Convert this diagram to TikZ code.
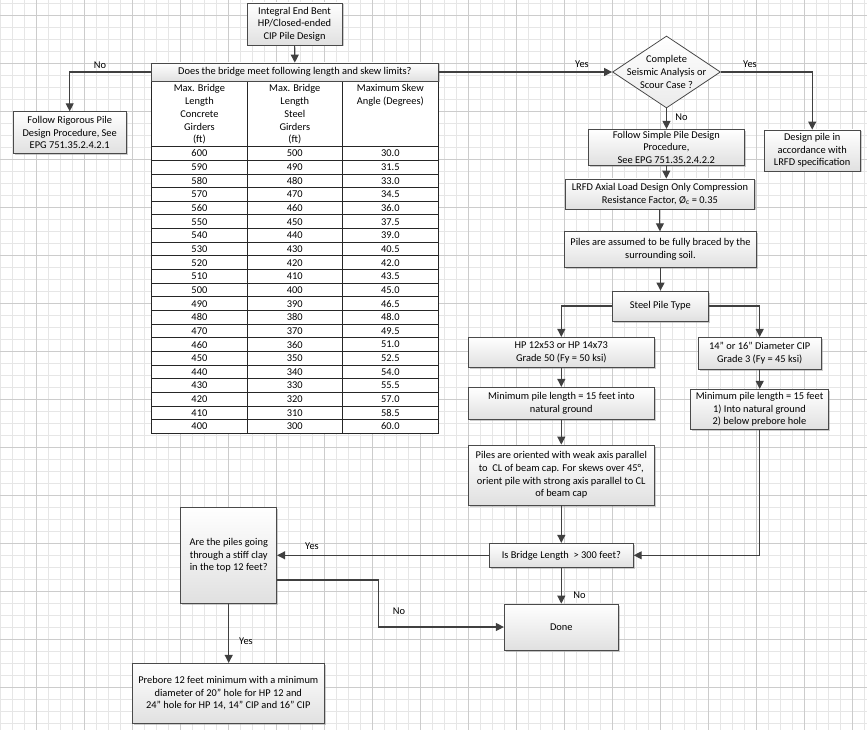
\documentclass[tikz,border=0pt]{standalone}
\usepackage{fontspec}
\setmainfont{Carlito}
\usetikzlibrary{arrows.meta,shapes.geometric,shadows}
\definecolor{ln}{HTML}{404040}
\definecolor{bd}{HTML}{4A4A4A}
\definecolor{gmin}{HTML}{E6E6E6}
\definecolor{gmaj}{HTML}{CCCCCC}
\begin{document}
\begin{tikzpicture}[x=1pt,y=-1pt,
  font=\fontsize{10.4}{12.7}\selectfont,
  box/.style={draw=bd, line width=0.8pt, top color=white, bottom color=black!12,
    drop shadow={shadow xshift=1.5pt,shadow yshift=-1.5pt,fill=black!40,opacity=0.5},
    align=center, inner sep=0pt},
  dshape/.style={draw=bd, line width=0.8pt, top color=white, bottom color=black!8,
    diamond, inner sep=0pt},
  conn/.style={draw=ln, line width=1.1pt, -{Triangle[length=8pt,width=8pt]}},
  lbl/.style={inner sep=0pt},
  cell/.style={inner sep=0pt},
  tline/.style={draw=black!85, line width=0.9pt}]
\useasboundingbox (0,0) rectangle (867,730);
% grid
\foreach \i in {0,...,72} \draw[gmin, line width=0.7pt] ({0.5+12*\i},0) -- ({0.5+12*\i},730);
\foreach \i in {0,...,60} \draw[gmin, line width=0.7pt] (0,{3.3+12*\i}) -- (867,{3.3+12*\i});
\foreach \i in {0,...,17} \draw[gmaj, line width=0.7pt] ({36.5+48*\i},0) -- ({36.5+48*\i},730);
\foreach \i in {0,...,15} \draw[gmaj, line width=0.7pt] (0,{15.3+48*\i}) -- (867,{15.3+48*\i});

% table
\fill[white] (151.5,81) rectangle (438.3,433.3);
\draw[tline] (151.5,81) rectangle (438.3,433.3);
\draw[tline] (247.3,81) -- (247.3,433.3);
\draw[tline] (342.3,81) -- (342.3,433.3);
\foreach \k in {0,...,20} \draw[tline] (151.5,{146.7+13.65*\k}) -- (438.3,{146.7+13.65*\k});
\node[cell, anchor=north, align=center] (h1) at (199.4,84.5) {Max. Bridge\\Length\\Concrete\\Girders\\(ft)};
\node[cell, anchor=north, align=center] (h2) at (294.8,84.5) {Max. Bridge\\Length\\Steel\\Girders\\(ft)};
\node[cell, anchor=north, align=center] (h3) at (390.3,84.5) {Maximum Skew\\Angle (Degrees)};
\foreach \a/\b/\c [count=\i from 0] in {600/500/30.0,590/490/31.5,580/480/33.0,570/470/34.5,
  560/460/36.0,550/450/37.5,540/440/39.0,530/430/40.5,520/420/42.0,510/410/43.5,500/400/45.0,
  490/390/46.5,480/380/48.0,470/370/49.5,460/360/51.0,450/350/52.5,440/340/54.0,430/330/55.5,
  420/320/57.0,410/310/58.5,400/300/60.0}{
  \node[cell] (ca\i) at (199.4,{146.7+13.65*(\i+0.5)}) {\a};
  \node[cell] (cb\i) at (294.8,{146.7+13.65*(\i+0.5)}) {\b};
  \node[cell] (cc\i) at (390.3,{146.7+13.65*(\i+0.5)}) {\c};
}

% boxes
\node[box, minimum width=95pt, minimum height=42pt] (start) at (294.5,24) {Integral End Bent\\HP/Closed-ended\\CIP Pile Design};
\node[box, minimum width=287pt, minimum height=18pt] (hdr) at (294.9,72) {Does the bridge meet following length and skew limits?};
\node[box, minimum width=112.7pt, minimum height=41.6pt] (rig) at (69.7,132.5) {Follow Rigorous Pile\\Design Procedure, See\\EPG 751.35.2.4.2.1};
\node[dshape, minimum width=108pt, minimum height=72pt] (dia) at (666.5,72) {};
\node[lbl, align=center] (diat) at (666.5,72) {Complete\\Seismic Analysis or\\Scour Case ?};
\node[box, minimum width=95.7pt, minimum height=41pt] (spec) at (812.2,150.5) {Design pile in\\accordance with\\LRFD specification};
\node[box, minimum width=156pt, minimum height=35.7pt] (simple) at (666.3,147.2) {Follow Simple Pile Design\\Procedure,\\See EPG 751.35.2.4.2.2};
\node[box, minimum width=188.3pt, minimum height=30pt] (axial) at (659.9,194) {LRFD Axial Load Design Only Compression\\Resistance Factor, Ø\textsubscript{c} = 0.35};
\node[box, minimum width=192.4pt, minimum height=35.6pt] (braced) at (660.5,249.5) {Piles are assumed to be fully braced by the\\surrounding soil.};
\node[box, minimum width=96pt, minimum height=30pt] (steel) at (660.3,306) {Steel Pile Type};
\node[box, minimum width=186pt, minimum height=30pt] (hp) at (561.3,352.3) {HP 12x53 or HP 14x73\\Grade 50 (Fy = 50 ksi)};
\node[box, minimum width=122.7pt, minimum height=31.7pt] (cip) at (759.7,353.2) {14" or 16" Diameter CIP\\Grade 3 (Fy = 45 ksi)};
\node[box, minimum width=186pt, minimum height=32pt] (minhp) at (561.3,403.3) {Minimum pile length = 15 feet into\\natural ground};
\node[box, minimum width=137.6pt, minimum height=40pt] (mincip) at (759.5,409.3) {Minimum pile length = 15 feet\\1) Into natural ground\\2) below prebore hole};
\node[box, minimum width=186pt, minimum height=60pt] (orient) at (561.3,475) {Piles are oriented with weak axis parallel\\to\ \ CL of beam cap. For skews over 45°,\\orient pile with strong axis parallel to CL\\of beam cap};
\node[box, minimum width=144pt, minimum height=24pt] (islen) at (561.3,555.3) {Is Bridge Length\ \ > 300 feet?};
\node[box, minimum width=114pt, minimum height=46pt] (done) at (561.3,627) {Done};
\node[box, minimum width=96pt, minimum height=96pt] (clay) at (228.7,555.3) {Are the piles going\\through a stiff clay\\in the top 12 feet?};
\node[box, minimum width=192pt, minimum height=60pt] (pre) at (228.3,693.3) {Prebore 12 feet minimum with a minimum\\diameter of 20" hole for HP 12 and\\24" hole for HP 14, 14" CIP and 16" CIP};

% connectors
\draw[conn] (start) -- (hdr);
\draw[conn] (hdr.west) -| (rig.north);
\node[lbl] (l1) at (100,65.5) {No};
\draw[conn] (hdr.east) -- (dia.west);
\node[lbl] (l2) at (582,64.5) {Yes};
\draw[conn] (dia.east) -| (spec.north);
\node[lbl] (l3) at (750,64) {Yes};
\draw[conn] (dia.south) -- (dia.south |- simple.north);
\node[lbl] (l4) at (681.5,117.5) {No};
\draw[conn] (simple.south) -- (simple.south |- axial.north);
\draw[conn] (axial.south) -- (axial.south |- braced.north);
\draw[conn] (braced.south) -- (braced.south |- steel.north);
\draw[conn] (steel.west) -| (hp.north);
\draw[conn] (steel.east) -| (cip.north);
\draw[conn] (hp) -- (minhp);
\draw[conn] (cip.south) -- (cip.south |- mincip.north);
\draw[conn] (minhp) -- (orient);
\draw[conn] (orient) -- (islen);
\draw[conn] (mincip.south) |- (islen.east);
\draw[conn] (islen) -- (done);
\node[lbl] (l5) at (579.5,595.5) {No};
\draw[conn] (islen.west) -- (clay.east);
\node[lbl] (l6) at (312,546.5) {Yes};
\coordinate (clayout) at ([yshift=-24.7pt]clay.east);
\draw[conn] (clayout) -- ++(101.7,0) |- (done.west);
\node[lbl] (l7) at (399,611.5) {No};
\draw[conn] (clay.south) -- (clay.south |- pre.north);
\node[lbl] (l8) at (246,641.5) {Yes};
\end{tikzpicture}
\end{document}
